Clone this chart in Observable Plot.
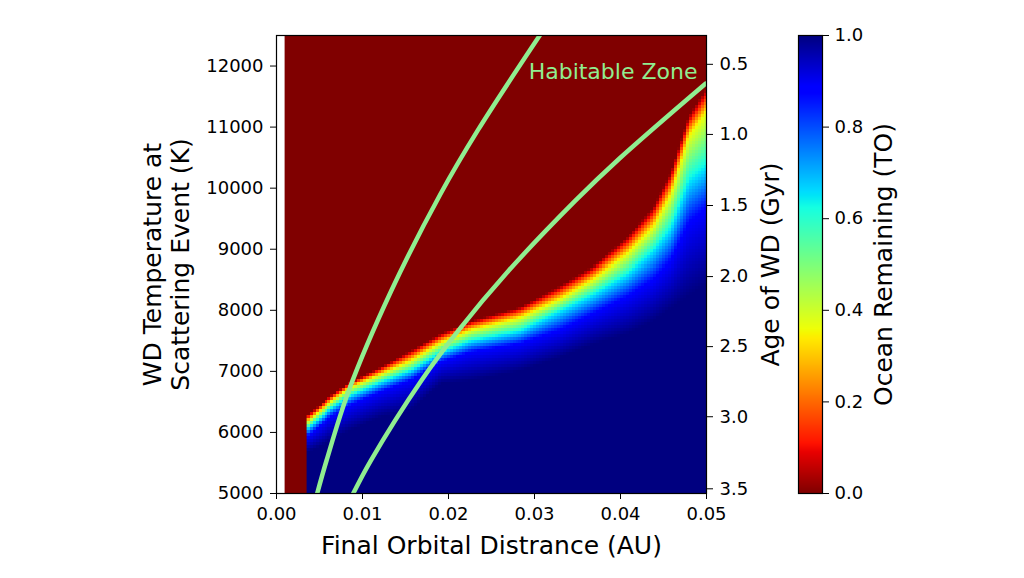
<!DOCTYPE html>
<html><head><meta charset="utf-8">
<script src="https://cdn.jsdelivr.net/npm/d3@7"></script>
<script src="https://cdn.jsdelivr.net/npm/@observablehq/plot@0.6"></script>
<style>
html,body{margin:0;padding:0;background:#fff;}
#wrap{position:relative;width:1024px;height:578px;overflow:hidden;font-family:"DejaVu Sans",sans-serif;}
#wrap svg{position:absolute;top:0;left:0;overflow:visible;}
</style></head><body><div id="wrap"></div>
<script>
// ---- data ----
// columns of the heatmap (final orbital distance, AU)
const colDist   = [0.0035, 0.0049, 0.0063, 0.0086, 0.0121, 0.0156, 0.0191, 0.0226, 0.0284, 0.0330, 0.0369, 0.0408, 0.0438, 0.0458, 0.0479, 0.0499];
// temperatures (K) where the ocean-remaining value reaches each level
const levelValues = [0, 0.36, 0.64, 0.89, 1];
const tempLevel0   = [6274, 6438, 6602, 6820, 7065, 7340, 7620, 7830, 8060, 8405, 8733, 9197, 9688, 10257, 11192, 11634];
const tempLevel36  = [6164, 6330, 6492, 6733, 6946, 7170, 7470, 7680, 7885, 8187, 8515, 8924, 9361, 9880, 10847, 11241];
const tempLevel64  = [6061, 6220, 6388, 6602, 6820, 7011, 7311, 7503, 7667, 7995, 8269, 8597, 8979, 9339, 10126, 10369];
const tempLevel89  = [5918, 6082, 6246, 6438, 6656, 6847, 7147, 7311, 7449, 7667, 7941, 8213, 8487, 8782, 9388, 9632];
const tempLevel100 = [5667, 5754, 5864, 6028, 6246, 6356, 6798, 6847, 7011, 7229, 7449, 7618, 7831, 8028, 8241, 8435];
const tempMax = 12500, tempMin = 5000;
// dry region (ocean fully lost) left of the band
const dryStart = 0.001, bandStart = 0.0035, distMax = 0.05;

// habitable-zone boundaries (distance AU, temperature K)
const hzInnerDist = [0.00473, 0.00581, 0.00840, 0.01336, 0.01910, 0.02340, 0.03062];
const hzInnerTemp = [5000, 5536, 6683, 8323, 9913, 10946, 12503];
const hzOuterDist = [0.00892, 0.01095, 0.01683, 0.02114, 0.02701, 0.03475, 0.03985, 0.04988];
const hzOuterTemp = [5000, 5536, 6847, 7667, 8651, 9795, 10482, 11711];

// ticks
const xTicks = [0, 0.01, 0.02, 0.03, 0.04, 0.05];
const yTicks = [5000, 6000, 7000, 8000, 9000, 10000, 11000, 12000];
const ageLabels = ["0.5", "1.0", "1.5", "2.0", "2.5", "3.0", "3.5"];
const ageTickTemps = [12028, 10880, 9716, 8552, 7405, 6257, 5077];
const cbTicks = [0, 0.2, 0.4, 0.6, 0.8, 1.0];

// texts
const xLabel = "Final Orbital Distrance (AU)";
const yLabel1 = "WD Temperature at";
const yLabel2 = "Scattering Event (K)";
const rightLabel = "Age of WD (Gyr)";
const cbLabel = "Ocean Remaining (TO)";
const hzLabel = "Habitable Zone";

// jet colormap segments (used reversed: 0 = dark red, 1 = navy)
const jetRed   = [[0,0],[0.35,0],[0.66,1],[0.89,1],[1,0.5]];
const jetGreen = [[0,0],[0.125,0],[0.375,1],[0.64,1],[0.91,0],[1,0]];
const jetBlue  = [[0,0.5],[0.11,1],[0.34,1],[0.65,0],[1,0]];

function seg(s, t) {
  for (let i = 1; i < s.length; i++) {
    if (t <= s[i][0]) {
      const [a0, v0] = s[i-1], [a1, v1] = s[i];
      return v0 + (v1 - v0) * (t - a0) / (a1 - a0);
    }
  }
  return s[s.length-1][1];
}
function jetReversed(v) {
  const t = 1 - Math.max(0, Math.min(1, v));
  const c = x => Math.round(255 * x);
  return `rgb(${c(seg(jetRed,t))},${c(seg(jetGreen,t))},${c(seg(jetBlue,t))})`;
}
const colorOpts = {type: "linear", domain: [0, 1], interpolate: jetReversed};

// ---- field reconstructed from the read contour levels ----
const levelTemps = [tempLevel0, tempLevel36, tempLevel64, tempLevel89, tempLevel100];
function oceanAt(x, T) {
  const n = colDist.length;
  let i = d3.bisectRight(colDist, x) - 1;
  i = Math.max(0, Math.min(n - 2, i));
  const f = Math.max(0, Math.min(1, (x - colDist[i]) / (colDist[i+1] - colDist[i])));
  const lv = levelTemps.map(a => a[i] + (a[i+1] - a[i]) * f);
  if (T >= lv[0]) return levelValues[0];
  const last = lv.length - 1;
  if (T <= lv[last]) return levelValues[last];
  for (let k = 0; k < last; k++) {
    if (T <= lv[k] && T >= lv[k+1]) {
      return levelValues[k] + (levelValues[k+1] - levelValues[k]) * (lv[k] - T) / (lv[k] - lv[k+1]);
    }
  }
  return 1;
}

const dry = [{x1: dryStart, x2: bandStart + 0.0003, y1: tempMin, y2: tempMax, v: 0}];
const hzInner = hzInnerDist.map((x, i) => ({x, T: hzInnerTemp[i]}));
const hzOuter = hzOuterDist.map((x, i) => ({x, T: hzOuterTemp[i]}));
const green = "#90EE90";

const main = Plot.plot({
  width: 1024, height: 578,
  marginLeft: 276, marginRight: 318, marginTop: 35, marginBottom: 85,
  x: {domain: [0, distMax]},
  y: {domain: [tempMin, tempMax]},
  color: colorOpts,
  style: {fontFamily: "DejaVu Sans", fontSize: "18px", color: "black", background: "transparent"},
  marks: [
    Plot.rect(dry, {x1: "x1", x2: "x2", y1: "y1", y2: "y2", fill: "v"}),
    Plot.raster({x1: bandStart, x2: distMax, y1: tempMin, y2: tempMax,
      width: 134, height: 152, fill: (x, y) => oceanAt(x, y), imageRendering: "pixelated"}),
    Plot.line(hzInner, {x: "x", y: "T", stroke: green, strokeWidth: 4.5, curve: "catmull-rom", clip: true}),
    Plot.line(hzOuter, {x: "x", y: "T", stroke: green, strokeWidth: 4.5, curve: "catmull-rom", clip: true}),
    Plot.text([hzLabel], {x: 0.04895, y: 11793, textAnchor: "end", lineAnchor: "bottom", fill: green, fontSize: 22}),
    Plot.frame({stroke: "black", strokeWidth: 1.2}),
    Plot.axisX({ticks: xTicks, tickFormat: d3.format(".2f"), tickSize: 6, tickPadding: 8, label: null}),
    Plot.axisY({ticks: yTicks, tickFormat: d => String(d), tickSize: 6, tickPadding: 7, label: null, anchor: "left"}),
    Plot.axisY({ticks: ageTickTemps, tickFormat: d => ageLabels[ageTickTemps.indexOf(d)], tickSize: 6, tickPadding: 7, label: null, anchor: "right"}),
    Plot.text([xLabel], {frameAnchor: "bottom", dy: 52, fontSize: 25, textAnchor: "middle", lineAnchor: "middle"}),
    Plot.text([yLabel1], {frameAnchor: "left", dx: -124, rotate: -90, fontSize: 25, textAnchor: "middle", lineAnchor: "middle"}),
    Plot.text([yLabel2], {frameAnchor: "left", dx: -96, rotate: -90, fontSize: 25, textAnchor: "middle", lineAnchor: "middle"}),
    Plot.text([rightLabel], {frameAnchor: "right", dx: 64, rotate: -90, fontSize: 25, textAnchor: "middle", lineAnchor: "middle"})
  ]
});

const cb = Plot.plot({
  width: 200, height: 578,
  marginLeft: 18, marginRight: 158, marginTop: 35, marginBottom: 85,
  x: {domain: [0, 1], axis: null},
  y: {domain: [0, 1]},
  color: colorOpts,
  style: {fontFamily: "DejaVu Sans", fontSize: "18px", color: "black", background: "transparent"},
  marks: [
    Plot.raster({x1: 0, x2: 1, y1: 0, y2: 1, width: 1, height: 457, fill: (x, y) => y}),
    Plot.frame({stroke: "black", strokeWidth: 1.2}),
    Plot.axisY({ticks: cbTicks, tickFormat: d3.format(".1f"), tickSize: 6, tickPadding: 6, label: null, anchor: "right"}),
    Plot.text([cbLabel], {frameAnchor: "right", dx: 61, rotate: -90, fontSize: 25, textAnchor: "middle", lineAnchor: "middle"})
  ]
});

const wrap = document.getElementById("wrap");
wrap.appendChild(main);
cb.style.left = "780px";
wrap.appendChild(cb);
</script>
</body></html>
